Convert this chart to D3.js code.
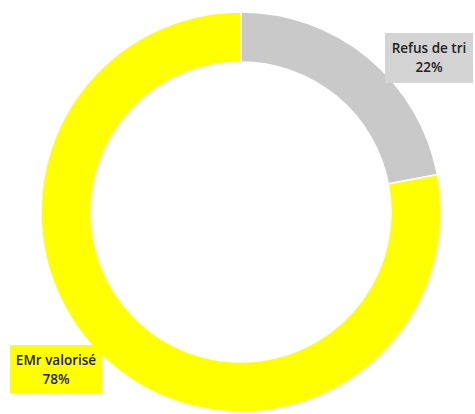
<!DOCTYPE html>
<html>
<head>
<meta charset="utf-8">
<script src="https://cdn.jsdelivr.net/npm/d3@7"></script>
<style>
  body { margin: 0; background: #fff; }
  svg { display: block; }
  .lbl { font-family: "Open Sans", sans-serif; font-weight: 600; font-size: 13.5px; fill: #222; }
</style>
</head>
<body>
<div id="chart"></div>
<script>
var categories = ["Refus de tri", "EMr valorisé"];
var values = [22, 78];
var colors = ["#c9c9c9", "#ffff00"];
var boxColors = ["#d4d4d4", "#ffff00"];

var width = 475, height = 414;
var cx = 241, cy = 212, outerR = 200, innerR = 150;

var svg = d3.select("#chart").append("svg")
    .attr("width", width)
    .attr("height", height);

var pie = d3.pie().sort(null).value(function (d) { return d; });
var arc = d3.arc().innerRadius(innerR).outerRadius(outerR);

var g = svg.append("g").attr("transform", "translate(" + cx + "," + cy + ")");

var arcs = pie(values);

g.selectAll("path").data(arcs).enter().append("path")
    .attr("d", arc)
    .attr("fill", function (d, i) { return colors[i]; })
    .attr("stroke", "#fff")
    .attr("stroke-width", 1.5);

// label boxes (positioned like the original data labels)
var labelPos = [
    {x: 385, y: 33, w: 88, h: 50},
    {x: 10, y: 345, w: 92, h: 48}
];

var labels = svg.selectAll("g.label").data(arcs).enter().append("g")
    .attr("class", "label")
    .attr("transform", function (d, i) {
        return "translate(" + labelPos[i].x + "," + labelPos[i].y + ")";
    });

labels.append("rect")
    .attr("width", function (d, i) { return labelPos[i].w; })
    .attr("height", function (d, i) { return labelPos[i].h; })
    .attr("fill", function (d, i) { return boxColors[i]; });

labels.append("text")
    .attr("class", "lbl")
    .attr("text-anchor", "middle")
    .attr("x", function (d, i) { return labelPos[i].w / 2; })
    .attr("y", 20)
    .text(function (d, i) { return categories[i]; });

labels.append("text")
    .attr("class", "lbl")
    .attr("text-anchor", "middle")
    .attr("x", function (d, i) { return labelPos[i].w / 2; })
    .attr("y", 39)
    .text(function (d) { return d.value + "%"; });
</script>
</body>
</html>
